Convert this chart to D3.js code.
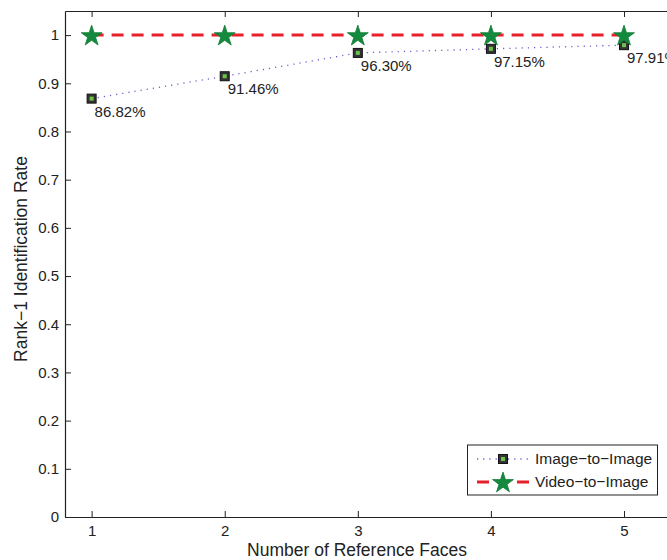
<!DOCTYPE html>
<html><head><meta charset="utf-8">
<script src="https://cdn.jsdelivr.net/npm/d3@7"></script>
<style>body{margin:0;background:#fff}svg{display:block;font-family:"Liberation Sans",Arial,sans-serif}</style>
</head><body><svg id="c" width="667" height="560"></svg>
<script>
const refFaces = [1, 2, 3, 4, 5];
const imageToImage = [0.8682, 0.9146, 0.9630, 0.9715, 0.9791];
const videoToImage = [1, 1, 1, 1, 1];
const pointLabels = ["86.82%", "91.46%", "96.30%", "97.15%", "97.91%"];
const yTicks = [0, 0.1, 0.2, 0.3, 0.4, 0.5, 0.6, 0.7, 0.8, 0.9, 1];
const seriesNames = ["Image\u2212to\u2212Image", "Video\u2212to\u2212Image"];

const svg = d3.select("#c");
const L = 65, T = 11, B = 517;
const x = d3.scaleLinear().domain([0.8, 5.4]).range([L, L + 4.6 * 133.1]);
const y = d3.scaleLinear().domain([0, 1.05]).range([B, T]);

// axes box
const ax = svg.append("g");
ax.append("g").attr("transform", `translate(0,${B})`)
  .call(d3.axisBottom(x).tickValues(refFaces).tickFormat(d3.format("d")).tickSizeInner(-6).tickSizeOuter(0).tickPadding(8));
ax.append("g").attr("transform", `translate(0,${T})`)
  .call(d3.axisTop(x).tickValues(refFaces).tickFormat("").tickSizeInner(-6).tickSizeOuter(0));
ax.append("g").attr("transform", `translate(${L},0)`)
  .call(d3.axisLeft(y).tickValues(yTicks).tickFormat(d => d === 0 || d === 1 ? d3.format("d")(d) : d3.format(".1f")(d)).tickSizeInner(-6).tickSizeOuter(0).tickPadding(6));
ax.selectAll(".domain").attr("stroke", "#222").attr("stroke-width", 1.2);
ax.selectAll(".tick line").attr("stroke", "#222");
ax.selectAll(".tick text").attr("font-size", 15).attr("fill", "#222").attr("font-family", "Liberation Sans, Arial, sans-serif");

// lines
const starPath = d3.symbol().type(d3.symbolStar).size(135)();
const line = d3.line().x((d, i) => x(refFaces[i])).y(d => y(d));
svg.append("path").datum(imageToImage).attr("d", line).attr("fill", "none")
  .attr("stroke", "#6a5acd").attr("stroke-width", 1.3).attr("stroke-dasharray", "1.2,5");
svg.append("path").datum(videoToImage).attr("d", line).attr("fill", "none")
  .attr("stroke", "#e8202a").attr("stroke-width", 3).attr("stroke-dasharray", "12,8");

// markers
function square(g, cx, cy) {
  g.append("rect").attr("x", cx - 4.5).attr("y", cy - 4.5).attr("width", 9).attr("height", 9)
    .attr("fill", "#333").attr("stroke", "#111").attr("stroke-width", 1);
  g.append("rect").attr("x", cx - 2).attr("y", cy - 2).attr("width", 4).attr("height", 4).attr("fill", "#6cc24a");
}
function star(g, cx, cy) {
  g.append("path").attr("d", starPath).attr("transform", `translate(${cx},${cy + 1})`)
    .attr("fill", "#138a3d").attr("stroke", "#0f7a33").attr("stroke-width", 0.8);
}
const mk = svg.append("g");
imageToImage.forEach((v, i) => square(mk, x(refFaces[i]), y(v)));
videoToImage.forEach((v, i) => star(mk, x(refFaces[i]), y(v)));

// labels
svg.append("g").selectAll("text").data(imageToImage).join("text")
  .attr("x", (d, i) => x(refFaces[i]) + 3).attr("y", d => y(d) + 18)
  .attr("font-size", 15).attr("fill", "#222").text((d, i) => pointLabels[i]);

// axis titles
svg.append("text").attr("x", 357).attr("y", 556).attr("text-anchor", "middle")
  .attr("font-size", 17.5).attr("fill", "#222").text("Number of Reference Faces");
svg.append("text").attr("transform", "translate(27,259) rotate(-90)").attr("text-anchor", "middle")
  .attr("font-size", 17.5).attr("fill", "#222").text("Rank\u22121 Identification Rate");

// legend
const lg = svg.append("g");
lg.append("rect").attr("x", 467.5).attr("y", 445).attr("width", 190).attr("height", 50)
  .attr("fill", "#fff").attr("stroke", "#222").attr("stroke-width", 1);
const rows = [{yy: 459, kind: 0}, {yy: 482, kind: 1}];
rows.forEach((r, i) => {
  if (r.kind === 0) {
    lg.append("line").attr("x1", 477).attr("x2", 529).attr("y1", r.yy).attr("y2", r.yy)
      .attr("stroke", "#6a5acd").attr("stroke-width", 1.3).attr("stroke-dasharray", "1.2,5");
    square(lg, 503, r.yy);
  } else {
    lg.append("line").attr("x1", 477).attr("x2", 529).attr("y1", r.yy).attr("y2", r.yy)
      .attr("stroke", "#e8202a").attr("stroke-width", 3).attr("stroke-dasharray", "12,8");
    star(lg, 503, r.yy);
  }
  lg.append("text").attr("x", 535).attr("y", r.yy + 5).attr("font-size", 15.5).attr("fill", "#222").text(seriesNames[i]);
});
</script></body></html>
